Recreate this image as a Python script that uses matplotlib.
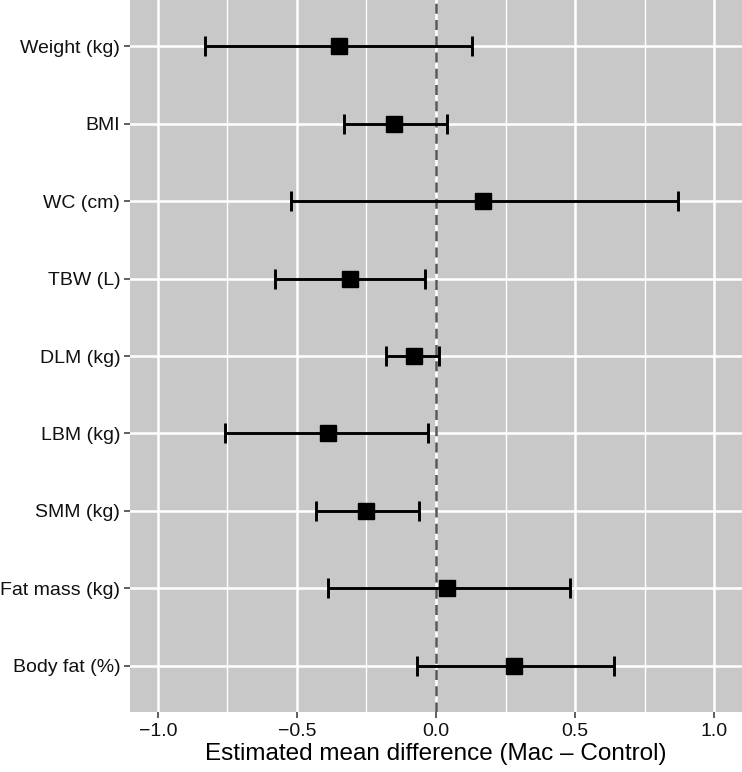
import numpy as np
import matplotlib
matplotlib.use('Agg')
import matplotlib.pyplot as plt
from matplotlib.ticker import MultipleLocator

plt.rcParams['font.family'] = ['Liberation Sans', 'DejaVu Sans']

# datos
variables = ['Weight (kg)', 'BMI', 'WC (cm)', 'TBW (L)', 'DLM (kg)',
             'LBM (kg)', 'SMM (kg)', 'Fat mass (kg)', 'Body fat (%)']
estimacion = [-0.35, -0.15, 0.17, -0.31, -0.08, -0.39, -0.25, 0.04, 0.28]
ic_inf = [-0.83, -0.33, -0.52, -0.58, -0.18, -0.76, -0.43, -0.39, -0.07]
ic_sup = [0.13, 0.04, 0.87, -0.04, 0.01, -0.03, -0.06, 0.48, 0.64]

est = np.array(estimacion)
err = np.array([est - np.array(ic_inf), np.array(ic_sup) - est])
ypos = np.arange(1, len(variables) + 1)

fig = plt.figure(figsize=(7.42, 7.72), dpi=100)
ax = fig.add_axes([130 / 742, 60 / 772, 612 / 742, 712 / 772])
ax.set_facecolor('#C8C8C8')

# cuadricula blanca estilo ggplot
ax.xaxis.set_major_locator(MultipleLocator(0.5))
ax.xaxis.set_minor_locator(MultipleLocator(0.25))
ax.grid(which='major', axis='both', color='white', linewidth=1.8)
ax.grid(which='minor', axis='x', color='white', linewidth=1.0)
ax.set_axisbelow(True)

ax.axvline(0, color='#555555', linestyle=(0, (4, 2.5)), linewidth=1.8, zorder=2)

ax.errorbar(est, ypos, xerr=err, fmt='s', color='black', markersize=11,
            elinewidth=2.1, capsize=7, capthick=2.1, zorder=3)

ax.set_xlim(-1.1, 1.1)
ax.set_ylim(len(variables) + 0.6, 0.4)
ax.set_yticks(ypos)
ax.set_yticklabels(variables)
ax.set_xticks([-1.0, -0.5, 0.0, 0.5, 1.0])
ax.set_xticklabels(['\u22121.0', '\u22120.5', '0.0', '0.5', '1.0'])

for s in ax.spines.values():
    s.set_visible(False)
ax.tick_params(which='major', length=4, width=1.1, color='#333333',
               labelsize=14, labelcolor='#111111')
ax.tick_params(axis='x', pad=4)
ax.tick_params(axis='y', pad=3)
ax.tick_params(which='minor', length=0)

ax.set_xlabel('Estimated mean difference (Mac \u2013 Control)', fontsize=17.5,
              color='black', labelpad=2)

fig.savefig('out.png', dpi=100)
